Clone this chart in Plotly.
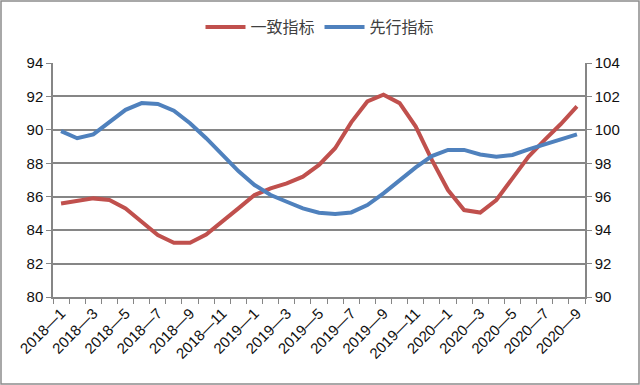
import plotly.graph_objects as go

categories = [f"{y}—{m}" for y in (2018, 2019) for m in range(1, 13)] + [f"2020—{m}" for m in range(1, 10)]
coincident = [85.6, 85.75, 85.9, 85.8, 85.3, 84.5, 83.7, 83.24, 83.24, 83.74, 84.5, 85.3,
              86.1, 86.5, 86.8, 87.2, 87.9, 88.9, 90.45, 91.7, 92.1, 91.6, 90.2, 88.2,
              86.4, 85.2, 85.05, 85.8, 87.1, 88.4, 89.4, 90.35, 91.4]
leading = [99.92, 99.5, 99.73, 100.5, 101.2, 101.6, 101.55, 101.15, 100.4, 99.5, 98.5, 97.53,
           96.7, 96.1, 95.7, 95.3, 95.04, 94.96, 95.06, 95.5, 96.2, 97.0, 97.75, 98.43,
           98.8, 98.8, 98.53, 98.39, 98.5, 98.83, 99.15, 99.43, 99.73]
names = ["一致指标", "先行指标"]
left_ticks = list(range(80, 95, 2))
right_ticks = list(range(90, 105, 2))

x = list(range(len(categories)))
label_idx = list(range(0, len(categories), 2))

fig = go.Figure()
fig.add_trace(go.Scatter(x=x, y=coincident, name=names[0], mode="lines",
                         line=dict(color="#C0504D", width=4), yaxis="y"))
fig.add_trace(go.Scatter(x=x, y=leading, name=names[1], mode="lines",
                         line=dict(color="#4F81BD", width=4), yaxis="y2"))

gray = "#868686"
font = "Liberation Sans, DejaVu Sans, Noto Sans CJK SC, sans-serif"
L, R, T, B = 53, 55, 63, 88
W, H = 640, 385
pw, ph = W - L - R, H - T - B

fig.update_layout(
    width=W, height=H,
    margin=dict(l=L, r=R, t=T, b=B, autoexpand=False),
    paper_bgcolor="white", plot_bgcolor="white",
    font=dict(family=font, size=15, color="#111111"),
    showlegend=True,
    legend=dict(orientation="h", x=0.5, xanchor="center", xref="container",
                y=1 - 27 / H, yanchor="middle", yref="container",
                font=dict(size=16, color="#404040", family="Noto Sans CJK SC, sans-serif"),
                itemwidth=40, bgcolor="rgba(0,0,0,0)", traceorder="normal"),
    xaxis=dict(range=[-0.5, len(categories) - 0.5], tickmode="array", automargin=False,
               tickvals=[x[i] for i in label_idx], ticktext=[categories[i] for i in label_idx],
               tickangle=-45, ticks="", showgrid=False, zeroline=False,
               showline=True, linecolor=gray, linewidth=1.5,
               tickfont=dict(size=15),
               minor=dict(tick0=-0.5, dtick=1, ticks="outside", ticklen=5, tickcolor=gray, showgrid=False)),
    yaxis=dict(range=[80, 94], tickmode="array", tickvals=left_ticks, automargin=False,
               showgrid=True, gridcolor=gray, gridwidth=1.5, zeroline=False,
               showline=True, linecolor=gray, linewidth=1.5,
               ticks="outside", ticklen=5, tickcolor=gray, tickfont=dict(size=15)),
    yaxis2=dict(range=[90, 104], tickmode="array", tickvals=right_ticks, overlaying="y", side="right",
                automargin=False,
                showgrid=False, zeroline=False, showline=True, linecolor=gray, linewidth=1.5,
                ticks="outside", ticklen=5, tickcolor=gray, tickfont=dict(size=15)),
    shapes=[dict(type="rect", xref="paper", yref="paper",
                 x0=(-L + 1) / pw, x1=1 + (R - 1) / pw, y0=(-B + 1) / ph, y1=1 + (T - 1) / ph,
                 line=dict(color="#8c8c8c", width=1.5), fillcolor="rgba(0,0,0,0)", layer="above")],
)

fig.write_html("out.html", config={"displayModeBar": False},
               post_script="document.body.style.margin='0px';document.body.style.overflow='hidden';")
